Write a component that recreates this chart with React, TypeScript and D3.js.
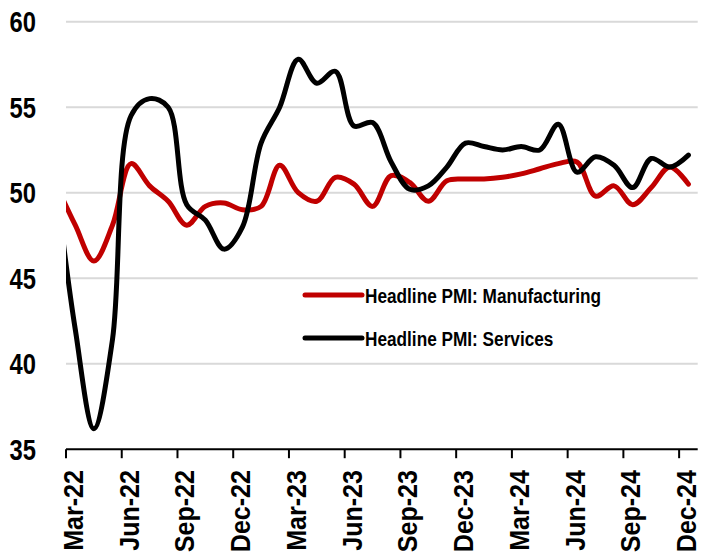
import React from "react";
import * as d3 from "d3";

const months = [
  "Feb-22", "Mar-22", "Apr-22", "May-22", "Jun-22", "Jul-22", "Aug-22", "Sep-22", "Oct-22", "Nov-22", "Dec-22",
  "Jan-23", "Feb-23", "Mar-23", "Apr-23", "May-23", "Jun-23", "Jul-23", "Aug-23", "Sep-23", "Oct-23", "Nov-23", "Dec-23",
  "Jan-24", "Feb-24", "Mar-24", "Apr-24", "May-24", "Jun-24", "Jul-24", "Aug-24", "Sep-24", "Oct-24", "Nov-24", "Dec-24",
];

const manufacturing = [
  50.4, 48.1, 46.0, 48.1, 51.7, 50.4, 49.5, 48.1, 49.2, 49.4, 49.0,
  49.2, 51.6, 50.0, 49.5, 50.9, 50.5, 49.2, 51.0, 50.6, 49.5, 50.7, 50.8,
  50.8, 50.9, 51.1, 51.4, 51.7, 51.8, 49.8, 50.4, 49.3, 50.3, 51.5, 50.5,
];

const services = [
  50.2, 42.0, 36.2, 41.4, 54.5, 55.5, 55.0, 49.3, 48.4, 46.7, 48.0,
  52.9, 55.0, 57.8, 56.4, 57.1, 53.9, 54.1, 51.8, 50.2, 50.4, 51.5, 52.9,
  52.7, 52.5, 52.7, 52.5, 54.0, 51.2, 52.1, 51.6, 50.3, 52.0, 51.5, 52.2,
];

const yTicks = [35, 40, 45, 50, 55, 60];
const xTickLabels = [
  "Mar-22", "Jun-22", "Sep-22", "Dec-22", "Mar-23", "Jun-23",
  "Sep-23", "Dec-23", "Mar-24", "Jun-24", "Sep-24", "Dec-24",
];
const seriesNames = ["Headline PMI: Manufacturing", "Headline PMI: Services"];
const seriesColors = ["#C00000", "#000000"];

const FONT = "'Liberation Sans', Arial, sans-serif";

export default function App() {
  const W = 702;
  const H = 560;
  const left = 66;
  const right = 697.7;
  const top = 21.7;
  const bottom = 449.2;

  const x = d3.scaleLinear().domain([0.5, months.length - 0.5]).range([left, right]);
  const y = d3.scaleLinear().domain([35, 60]).range([bottom, top]);

  const line = d3
    .line<number>()
    .x((_, i) => x(i))
    .y((d) => y(d))
    .curve(d3.curveCatmullRom.alpha(0.5));

  const seriesData = [manufacturing, services];

  return (
    <svg
      width={W}
      height={H}
      style={{ position: "absolute", left: 0, top: 0, background: "#fff" }}
      fontFamily={FONT}
    >
      <defs>
        <clipPath id="plotClip">
          <rect x={left} y={0} width={right - left} height={H} />
        </clipPath>
      </defs>

      {yTicks
        .filter((t) => t !== 35)
        .map((t) => (
          <line
            key={"g" + t}
            x1={left}
            x2={right}
            y1={y(t)}
            y2={y(t)}
            stroke="#D9D9D9"
            strokeWidth={2}
          />
        ))}

      {yTicks.map((t) => (
        <text
          key={"yl" + t}
          transform={`translate(36,${y(t)}) scale(0.82,1)`}
          dy="0.36em"
          textAnchor="end"
          fontSize={29}
          fontWeight="bold"
          fill="#000"
        >
          {t}
        </text>
      ))}

      <line x1={left} x2={right} y1={y(35)} y2={y(35)} stroke="#000" strokeWidth={2} />

      {xTickLabels.map((lab) => {
        const idx = months.indexOf(lab);
        const tx = x(idx - 0.5);
        const lx = x(idx) - 2;
        return (
          <g key={"xt" + lab}>
            <line x1={tx} x2={tx} y1={y(35)} y2={y(35) + 9} stroke="#000" strokeWidth={2} />
            <text
              transform={`translate(${lx},${470}) rotate(-90) scale(0.88,1)`}
              textAnchor="end"
              dy="0.34em"
              fontSize={28.5}
              fontWeight="bold"
              fill="#000"
            >
              {lab}
            </text>
          </g>
        );
      })}

      <g clipPath="url(#plotClip)">
        {seriesData.map((s, k) => (
          <path
            key={"s" + k}
            d={line(s) || ""}
            fill="none"
            stroke={seriesColors[k]}
            strokeWidth={5}
            strokeLinejoin="round"
            strokeLinecap="round"
          />
        ))}
      </g>

      {seriesNames.map((name, k) => {
        const ly = 295 + k * 43;
        return (
          <g key={"lg" + k}>
            <line
              x1={305}
              x2={362}
              y1={ly}
              y2={ly}
              stroke={seriesColors[k]}
              strokeWidth={5}
              strokeLinecap="round"
            />
            <text
              transform={`translate(365,${ly}) scale(0.82,1)`}
              dy="0.36em"
              fontSize={21}
              fontWeight="bold"
              fill="#000"
            >
              {name}
            </text>
          </g>
        );
      })}
    </svg>
  );
}
